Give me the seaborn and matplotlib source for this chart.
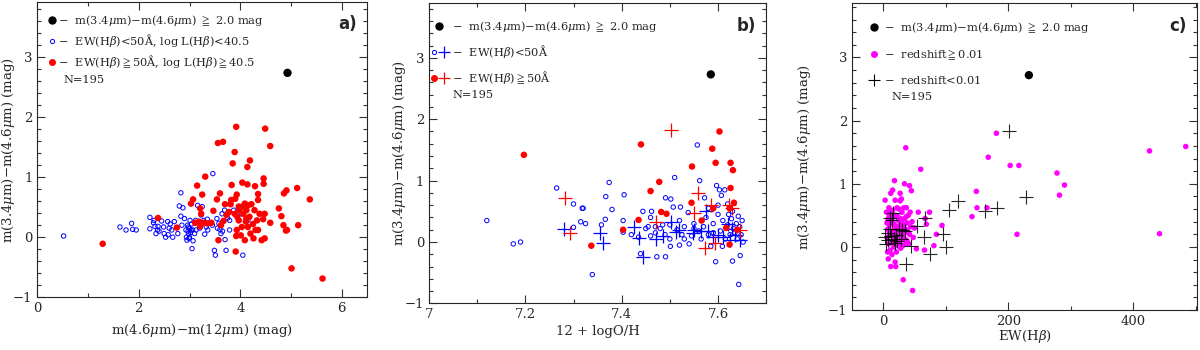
import matplotlib
matplotlib.use("Agg")
import matplotlib.pyplot as plt
import seaborn as sns
from matplotlib.lines import Line2D
from matplotlib.legend_handler import HandlerTuple
from matplotlib.ticker import MultipleLocator

# ---- panel a: m(4.6)-m(12) vs m(3.4)-m(4.6)
a_red_x = [1.29, 2.38, 2.75, 3.03, 3.07, 3.15, 3.31, 3.25, 3.21, 3.23, 3.11, 3.19, 3.27, 3.35, 3.43,
           3.21, 3.56, 3.66, 3.47, 3.54, 3.60, 3.57, 3.67, 3.73, 3.81, 3.82, 3.83, 3.85, 3.89, 3.92,
           3.90, 3.93, 3.97, 3.89, 3.94, 3.97, 3.93, 3.92, 3.91, 4.01, 4.04, 4.14, 4.14, 4.19, 4.09,
           4.15, 4.12, 4.06, 4.18, 4.11, 4.03, 4.15, 4.20, 4.09, 4.42, 4.29, 4.35, 4.35, 4.46, 4.46,
           4.28, 4.33, 4.38, 4.48, 4.35, 4.26, 4.48, 4.49, 4.59, 4.59, 4.76, 4.81, 4.86, 4.91, 4.85,
           4.90, 4.92, 5.01, 5.12, 5.14, 5.37, 5.62, 4.05, 4.22, 4.25, 4.12, 3.98, 4.30, 3.70, 3.78,
           4.45, 3.62]
a_red_y = [-0.11, 0.32, 0.16, 0.56, 0.63, 0.86, 1.01, 0.71, 0.48, 0.39, 0.24, 0.26, 0.24, 0.23, 0.24,
           0.18, 1.57, 1.59, 0.44, 0.63, 0.73, -0.05, 0.27, 0.37, 0.55, 0.62, 0.87, 1.23, 1.42, 1.84,
           0.64, 0.71, 0.51, 0.39, 0.34, 0.28, 0.12, 0.02, -0.24, 0.03, 0.91, 0.88, 1.17, 1.28, 0.56,
           0.53, 0.45, 0.39, 0.34, 0.26, 0.17, 0.17, 0.06, -0.05, -0.05, 0.85, 0.72, 0.62, 0.89, 0.98,
           0.45, 0.28, 0.39, 0.39, 0.12, -0.02, -0.02, 1.81, 1.52, 0.24, 0.48, 0.35, 0.73, 0.78, 0.20,
           0.11, 0.12, -0.52, 0.82, 0.20, 0.63, -0.69, 0.51, 0.55, 0.22, 0.31, 0.45, 0.12, 0.55, 0.42,
           0.30, 0.20]
a_blue_x = [0.52, 1.63, 1.75, 1.86, 1.88, 1.95, 2.22, 2.22, 2.29, 2.32, 2.34, 2.37, 2.45, 2.49, 2.50,
            2.53, 2.57, 2.62, 2.65, 2.67, 2.70, 2.77, 2.80, 2.83, 2.87, 2.83, 2.90, 2.93, 2.95, 2.98,
            2.98, 3.01, 3.03, 3.05, 3.00, 3.07, 3.10, 3.13, 3.16, 3.23, 3.25, 3.28, 3.33, 3.36, 3.46,
            3.49, 3.51, 3.54, 3.58, 3.60, 3.62, 3.64, 3.69, 3.70, 3.72, 3.79, 3.79, 3.87, 4.02, 4.05,
            4.15, 4.28, 2.97, 3.00, 3.02, 2.96, 3.04, 2.99, 2.94, 3.06, 2.38, 2.40, 2.58, 2.60, 2.30,
            3.35, 3.12, 3.20, 3.30, 3.45, 3.55, 3.65, 3.75, 2.85]
a_blue_y = [0.02, 0.17, 0.12, 0.23, 0.13, 0.12, 0.33, 0.14, 0.24, 0.18, 0.06, 0.12, 0.27, 0.17, 0.06,
            0.00, 0.26, 0.22, 0.12, 0.00, 0.26, 0.06, 0.52, 0.74, 0.49, 0.35, 0.31, 0.12, -0.05, 0.06,
            0.17, 0.28, 0.12, -0.19, 0.00, -0.06, 0.06, 0.12, 0.53, 0.37, 0.51, 0.28, 0.17, 0.12, 1.06,
            -0.22, -0.30, 0.31, 0.23, 0.13, 0.06, 0.39, 0.45, -0.04, -0.22, 0.28, 0.12, 0.45, 0.39, -0.30,
            0.28, 0.45, 0.10, 0.15, 0.08, 0.20, 0.22, -0.02, 0.00, 0.12, 0.18, 0.10, 0.04, 0.15, 0.28,
            0.30, 0.28, 0.15, 0.05, 0.20, 0.15, 0.10, 0.32, 0.20]
a_black_x = [4.93]
a_black_y = [2.74]

# ---- panel b: 12 + log O/H
b_red_x = [7.197, 7.337, 7.403, 7.435, 7.440, 7.460, 7.478, 7.482, 7.493, 7.545, 7.546, 7.566,
           7.588, 7.590, 7.595, 7.603, 7.626, 7.631, 7.626, 7.633, 7.624, 7.617, 7.640, 7.624]
b_red_y = [1.42, -0.06, 0.20, 0.36, 1.59, 0.83, 0.98, 0.49, 0.46, 0.64, 1.23, 0.35,
           1.52, 0.55, 1.29, 1.80, 1.29, 1.17, 0.88, 0.64, 0.55, 0.23, 0.20, -0.04]
b_redcross_x = [7.283, 7.292, 7.471, 7.503, 7.551, 7.558, 7.586, 7.623, 7.572, 7.594, 7.630, 7.645]
b_redcross_y = [0.72, 0.15, 0.32, 1.83, 0.47, 0.80, 0.60, 0.60, -0.10, -0.02, 0.55, 0.20]
b_blue_x = [7.120, 7.175, 7.190, 7.265, 7.300, 7.300, 7.320, 7.325, 7.315, 7.318, 7.339, 7.358,
            7.366, 7.367, 7.374, 7.380, 7.405, 7.403, 7.403, 7.439, 7.444, 7.462, 7.450, 7.455,
            7.460, 7.470, 7.473, 7.480, 7.485, 7.491, 7.491, 7.502, 7.490, 7.500, 7.501, 7.507,
            7.510, 7.515, 7.520, 7.522, 7.525, 7.530, 7.538, 7.540, 7.545, 7.550, 7.557, 7.560,
            7.562, 7.565, 7.570, 7.572, 7.575, 7.580, 7.585, 7.590, 7.595, 7.597, 7.600, 7.603,
            7.605, 7.607, 7.609, 7.610, 7.614, 7.615, 7.620, 7.622, 7.625, 7.628, 7.630, 7.632,
            7.635, 7.638, 7.640, 7.642, 7.643, 7.645, 7.646, 7.648, 7.650, 7.652, 7.460, 7.470,
            7.420, 7.435, 7.520, 7.550, 7.580, 7.600, 7.590, 7.620, 7.630, 7.500, 7.530]
b_blue_y = [0.35, -0.03, 0.00, 0.88, 0.62, 0.24, 0.55, 0.30, 0.33, 0.55, -0.53, 0.28,
            0.37, 0.74, 0.97, 0.53, 0.77, 0.35, 0.16, -0.19, 0.50, 0.50, 0.22, 0.25,
            0.10, 0.25, -0.24, 0.22, 0.28, -0.24, 0.72, 0.70, 0.12, 0.05, -0.07, 0.57,
            1.05, 0.20, -0.05, 0.57, 0.12, 0.25, 0.48, -0.03, 0.10, 0.30, 1.58, 0.18,
            1.00, 0.05, 0.25, 0.72, 0.40, 0.12, -0.07, 0.30, -0.32, 0.92, 0.45, 0.85,
            0.18, 0.76, -0.07, 0.35, 0.85, 0.05, 0.28, 0.45, 0.12, 0.38, -0.31, 0.22,
            0.15, 0.30, 0.05, 0.42, -0.69, 0.25, -0.22, 0.12, 0.35, 0.00, 0.40, 0.15,
            0.12, 0.08, 0.35, 0.22, 0.55, 0.60, 0.15, 0.62, 0.50, 0.28, 0.05]
b_bluecross_x = [7.280, 7.354, 7.361, 7.426, 7.436, 7.444, 7.471, 7.486, 7.503, 7.513, 7.548, 7.550,
                 7.576, 7.580, 7.600, 7.610, 7.624, 7.645, 7.635, 7.620, 7.630, 7.565, 7.590, 7.520]
b_bluecross_y = [0.22, 0.14, -0.02, 0.24, 0.06, -0.24, 0.05, 0.10, 0.32, 0.17, 0.15, 0.20,
                 0.51, 0.18, 0.12, 0.09, 0.04, 0.04, 0.12, 0.30, 0.22, 0.18, 0.08, 0.20]
b_black_x = [7.585]
b_black_y = [2.73]

# ---- panel c: EW(Hbeta)
c_mag_x = [36, 60, 168, 181, 203, 217, 278, 290, 282, 149, 150, 166, 142, 214, 426, 484, 442,
           94, 85, 81, 74, 67, 69, 56, 53, 66, 47, 32, 3, 12, 15, 18, 34, 42, 45, 27, 19, 27, 29,
           37, 8, 12, 20, 19,
           5, 8, 10, 12, 14, 15, 16, 18, 20, 22, 24, 26, 28, 30, 32, 34, 36, 38, 40, 42, 44, 46,
           6, 9, 11, 13, 17, 19, 21, 23, 25, 27, 29, 31, 33, 35, 37, 39, 41, 7, 9, 13, 15, 17,
           21, 23, 25, 27, 31, 33, 7, 10, 14, 16, 18, 20, 24, 28, 30, 34, 36, 43, 48, 50, 12, 22,
           26, 38, 10, 6]
c_mag_y = [1.57, 1.23, 1.42, 1.80, 1.29, 1.29, 1.17, 0.98, 0.82, 0.88, 0.62, 0.62, 0.48, 0.20,
           1.52, 1.59, 0.21, 0.34, 0.20, 0.02, 0.55, 0.45, 0.36, 0.55, -0.03, -0.05, -0.69, -0.52,
           0.74, 0.85, 0.90, 1.05, 1.00, 0.97, 0.89, 0.85, 0.74, 0.73, 0.76, 0.62, -0.19, -0.31,
           -0.31, -0.24,
           0.55, 0.45, 0.35, 0.55, 0.25, 0.40, 0.10, 0.30, 0.50, 0.20, 0.42, 0.05, 0.35, 0.55,
           0.15, 0.45, 0.28, 0.38, 0.50, 0.20, 0.32, 0.40, 0.15, 0.05, -0.05, 0.18, 0.00, 0.12,
           -0.08, 0.28, 0.60, 0.10, 0.22, 0.02, 0.35, 0.12, 0.48, 0.25, 0.05, 0.28, 0.62, 0.42,
           0.58, 0.36, 0.33, 0.48, 0.18, 0.45, 0.30, 0.62, -0.08, 0.22, -0.12, 0.48, 0.22, 0.03,
           0.08, -0.02, 0.42, 0.22, 0.05, 0.55, 0.15, 0.30, 0.08, 0.62, 0.30, 0.10, 0.50, 0.38]
c_cross_x = [201, 228, 119, 105, 162, 182, 66, 54, 65, 95, 101, 74, 36, 45, 10, 15, 14, 7, 8,
             12, 20, 25, 30, 35, 29, 18, 22, 5, 10, 17, 2]
c_cross_y = [1.83, 0.79, 0.73, 0.59, 0.57, 0.61, 0.46, 0.33, 0.16, 0.20, 0.00, -0.11, -0.27,
             0.01, 0.46, 0.54, 0.43, 0.11, 0.22, 0.17, 0.19, 0.28, 0.27, 0.25, 0.12, 0.07, 0.10,
             0.05, 0.29, 0.13, 0.16]
c_black_x = [233]
c_black_y = [2.72]

sns.set_style("ticks")
plt.rcParams['font.family'] = ['DejaVu Serif', 'DejaVu Sans']
plt.rcParams['mathtext.fontset'] = 'dejavuserif'

fig = plt.figure(figsize=(12, 3.5), dpi=100)
ax_a = fig.add_axes([0.031, 0.151, 0.275, 0.843])
ax_b = fig.add_axes([0.3575, 0.133, 0.281, 0.858])
ax_c = fig.add_axes([0.710, 0.114, 0.2875, 0.877])

BLUE = '#0000ff'
RED = '#ff0000'
MAG = '#ff00ff'
LEGFS = 8.2
ylab = r'm(3.4$\mu$m)$-$m(4.6$\mu$m) (mag)'
first = r'$-$  m(3.4$\mu$m)$-$m(4.6$\mu$m) $\geqq$ 2.0 mag'

# panel a
sns.scatterplot(x=a_blue_x, y=a_blue_y, ax=ax_a, marker='o', s=10, color=BLUE,
                facecolor='none', edgecolor=BLUE, linewidth=0.7)
sns.scatterplot(x=a_red_x, y=a_red_y, ax=ax_a, marker='o', s=22, color=RED, edgecolor='none')
sns.scatterplot(x=a_black_x, y=a_black_y, ax=ax_a, marker='o', s=36, color='black', edgecolor='none')
ax_a.set_xlim(0, 6.5)
ax_a.set_ylim(-1, 3.92)
ax_a.xaxis.set_major_locator(MultipleLocator(2))
ax_a.xaxis.set_minor_locator(MultipleLocator(1))
ax_a.set_xlabel(r'm(4.6$\mu$m)$-$m(12$\mu$m) (mag)', fontsize=9.5, labelpad=5)
h_a = [Line2D([], [], ls='none', marker='o', ms=5, color='black'),
       Line2D([], [], ls='none', marker='o', ms=3, mfc='none', mec=BLUE, mew=0.7),
       Line2D([], [], ls='none', marker='o', ms=4, color=RED)]
l_a = [first,
       r'$-$  EW(H$\beta$)<50Å, log L(H$\beta$)<40.5',
       r'$-$  EW(H$\beta$)$\geqq$50Å, log L(H$\beta$)$\geqq$40.5']
ax_a.legend(h_a, l_a, loc='upper left', bbox_to_anchor=(0.035, 0.963), frameon=False,
            handlelength=0.5, handletextpad=0.3, labelspacing=0.35, fontsize=LEGFS,
            borderaxespad=0, borderpad=0)
ax_a.text(0.08, 0.735, 'N=195', transform=ax_a.transAxes, fontsize=LEGFS, va='center')
ax_a.text(0.97, 0.955, 'a)', transform=ax_a.transAxes, fontsize=12, fontweight='bold',
          ha='right', va='top', family='DejaVu Sans')
ax_a.yaxis.set_label_coords(-0.06, 0.5)

# panel b
sns.scatterplot(x=b_blue_x, y=b_blue_y, ax=ax_b, marker='o', s=10, color=BLUE,
                facecolor='none', edgecolor=BLUE, linewidth=0.7)
sns.scatterplot(x=b_bluecross_x, y=b_bluecross_y, ax=ax_b, marker='+', s=110, color=BLUE,
                linewidth=0.9)
sns.scatterplot(x=b_red_x, y=b_red_y, ax=ax_b, marker='o', s=22, color=RED, edgecolor='none')
sns.scatterplot(x=b_redcross_x, y=b_redcross_y, ax=ax_b, marker='+', s=110, color=RED,
                linewidth=0.9)
sns.scatterplot(x=b_black_x, y=b_black_y, ax=ax_b, marker='o', s=36, color='black', edgecolor='none')
ax_b.set_xlim(7, 7.7)
ax_b.set_ylim(-1, 3.89)
ax_b.xaxis.set_minor_locator(MultipleLocator(0.1))
ax_b.set_xticks([7, 7.2, 7.4, 7.6])
ax_b.set_xticklabels(['7', '7.2', '7.4', '7.6'])
ax_b.set_xlabel('12 + logO/H', fontsize=9.5, labelpad=3)
h_b = [Line2D([], [], ls='none', marker='o', ms=5, color='black'),
       (Line2D([], [], ls='none', marker='o', ms=3, mfc='none', mec=BLUE, mew=0.7),
        Line2D([], [], ls='none', marker='+', ms=9, color=BLUE, mew=0.9)),
       (Line2D([], [], ls='none', marker='o', ms=4, color=RED),
        Line2D([], [], ls='none', marker='+', ms=9, color=RED, mew=0.9))]
l_b = [first, r'$-$  EW(H$\beta$)<50Å', r'$-$  EW(H$\beta$)$\geqq$50Å']
ax_b.legend(h_b, l_b, loc='upper left', bbox_to_anchor=(0.005, 0.948), frameon=False,
            handlelength=1.5, handletextpad=0.4, labelspacing=0.8, fontsize=LEGFS,
            borderaxespad=0, borderpad=0,
            handler_map={tuple: HandlerTuple(ndivide=None, pad=0.2)})
ax_b.text(0.071, 0.695, 'N=195', transform=ax_b.transAxes, fontsize=LEGFS, va='center')
ax_b.text(0.97, 0.955, 'b)', transform=ax_b.transAxes, fontsize=12, fontweight='bold',
          ha='right', va='top', family='DejaVu Sans')
ax_b.yaxis.set_label_coords(-0.062, 0.5)

# panel c
sns.scatterplot(x=c_mag_x, y=c_mag_y, ax=ax_c, marker='o', s=16, color=MAG, edgecolor='none')
sns.scatterplot(x=c_cross_x, y=c_cross_y, ax=ax_c, marker='+', s=95, color='black',
                linewidth=0.8, alpha=0.85)
sns.scatterplot(x=c_black_x, y=c_black_y, ax=ax_c, marker='o', s=36, color='black', edgecolor='none')
ax_c.set_xlim(-50, 502)
ax_c.set_ylim(-1, 3.86)
ax_c.xaxis.set_major_locator(MultipleLocator(200))
ax_c.xaxis.set_minor_locator(MultipleLocator(100))
ax_c.set_xlabel(r'EW(H$\beta$)', fontsize=9.5, labelpad=0)
h_c = [Line2D([], [], ls='none', marker='o', ms=5, color='black'),
       Line2D([], [], ls='none', marker='o', ms=4, color=MAG),
       Line2D([], [], ls='none', marker='+', ms=9, color='black', mew=0.8)]
l_c = [first, r'$-$  redshift$\geqq$0.01', r'$-$  redshift<0.01']
ax_c.legend(h_c, l_c, loc='upper left', bbox_to_anchor=(0.05, 0.945), frameon=False,
            handlelength=0.9, handletextpad=0.4, labelspacing=1.05, fontsize=LEGFS,
            borderaxespad=0, borderpad=0)
ax_c.text(0.113, 0.694, 'N=195', transform=ax_c.transAxes, fontsize=LEGFS, va='center')
ax_c.text(0.97, 0.955, 'c)', transform=ax_c.transAxes, fontsize=12, fontweight='bold',
          ha='right', va='top', family='DejaVu Sans')
ax_c.yaxis.set_label_coords(-0.113, 0.5)

for ax in (ax_a, ax_b, ax_c):
    ax.yaxis.set_major_locator(MultipleLocator(1))
    ax.yaxis.set_minor_locator(MultipleLocator(0.2))
    ax.set_ylabel(ylab, fontsize=9.5)
    ax.tick_params(which='both', direction='in', top=True, right=True, labelsize=9.5,
                   width=0.8, color='#333333')
    ax.tick_params(which='major', length=6)
    ax.tick_params(which='minor', length=3)
    for sp in ax.spines.values():
        sp.set_linewidth(0.8)

fig.savefig('out.png', dpi=100)
